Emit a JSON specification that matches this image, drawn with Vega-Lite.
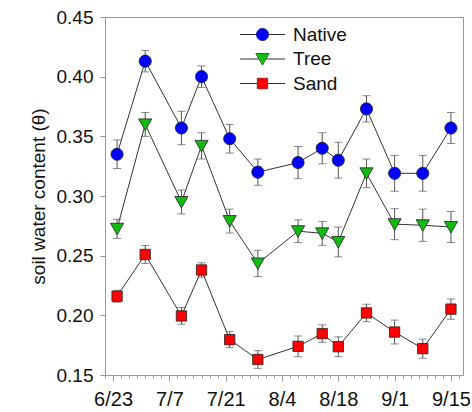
{
  "$schema": "https://vega.github.io/schema/vega-lite/v6.json",
  "width": 358,
  "height": 358,
  "autosize": {"type": "none"},
  "padding": {"left": 105, "top": 17, "right": 9, "bottom": 37},
  "config": {
    "font": "Liberation Sans",
    "view": {"stroke": "#999", "strokeWidth": 1},
    "axis": {"grid": false, "domainColor": "#999", "tickColor": "#999", "labelColor": "#111", "titleColor": "#111"}
  },
  "data": {
    "values": [
      {"date": "2013-06-24", "site": "Native", "swc": 0.335, "lo": 0.323, "hi": 0.347},
      {"date": "2013-07-01", "site": "Native", "swc": 0.413, "lo": 0.404, "hi": 0.422},
      {"date": "2013-07-10", "site": "Native", "swc": 0.357, "lo": 0.343, "hi": 0.371},
      {"date": "2013-07-15", "site": "Native", "swc": 0.400, "lo": 0.391, "hi": 0.409},
      {"date": "2013-07-22", "site": "Native", "swc": 0.348, "lo": 0.336, "hi": 0.360},
      {"date": "2013-07-29", "site": "Native", "swc": 0.320, "lo": 0.309, "hi": 0.331},
      {"date": "2013-08-08", "site": "Native", "swc": 0.328, "lo": 0.3145, "hi": 0.3415},
      {"date": "2013-08-14", "site": "Native", "swc": 0.340, "lo": 0.327, "hi": 0.353},
      {"date": "2013-08-18", "site": "Native", "swc": 0.330, "lo": 0.315, "hi": 0.345},
      {"date": "2013-08-25", "site": "Native", "swc": 0.373, "lo": 0.362, "hi": 0.384},
      {"date": "2013-09-01", "site": "Native", "swc": 0.319, "lo": 0.304, "hi": 0.334},
      {"date": "2013-09-08", "site": "Native", "swc": 0.319, "lo": 0.304, "hi": 0.334},
      {"date": "2013-09-15", "site": "Native", "swc": 0.357, "lo": 0.344, "hi": 0.370},
      {"date": "2013-06-24", "site": "Tree", "swc": 0.2725, "lo": 0.2645, "hi": 0.2805},
      {"date": "2013-07-01", "site": "Tree", "swc": 0.360, "lo": 0.350, "hi": 0.370},
      {"date": "2013-07-10", "site": "Tree", "swc": 0.295, "lo": 0.285, "hi": 0.305},
      {"date": "2013-07-15", "site": "Tree", "swc": 0.342, "lo": 0.331, "hi": 0.353},
      {"date": "2013-07-22", "site": "Tree", "swc": 0.279, "lo": 0.269, "hi": 0.289},
      {"date": "2013-07-29", "site": "Tree", "swc": 0.2435, "lo": 0.2325, "hi": 0.2545},
      {"date": "2013-08-08", "site": "Tree", "swc": 0.2705, "lo": 0.261, "hi": 0.280},
      {"date": "2013-08-14", "site": "Tree", "swc": 0.2687, "lo": 0.2587, "hi": 0.2787},
      {"date": "2013-08-18", "site": "Tree", "swc": 0.2615, "lo": 0.249, "hi": 0.274},
      {"date": "2013-08-25", "site": "Tree", "swc": 0.319, "lo": 0.307, "hi": 0.331},
      {"date": "2013-09-01", "site": "Tree", "swc": 0.2764, "lo": 0.2634, "hi": 0.2894},
      {"date": "2013-09-08", "site": "Tree", "swc": 0.2755, "lo": 0.262, "hi": 0.289},
      {"date": "2013-09-15", "site": "Tree", "swc": 0.274, "lo": 0.261, "hi": 0.287},
      {"date": "2013-06-24", "site": "Sand", "swc": 0.216, "lo": 0.211, "hi": 0.221},
      {"date": "2013-07-01", "site": "Sand", "swc": 0.251, "lo": 0.2435, "hi": 0.2585},
      {"date": "2013-07-10", "site": "Sand", "swc": 0.1995, "lo": 0.1925, "hi": 0.2065},
      {"date": "2013-07-15", "site": "Sand", "swc": 0.238, "lo": 0.232, "hi": 0.244},
      {"date": "2013-07-22", "site": "Sand", "swc": 0.1796, "lo": 0.1729, "hi": 0.1863},
      {"date": "2013-07-29", "site": "Sand", "swc": 0.163, "lo": 0.1556, "hi": 0.1704},
      {"date": "2013-08-08", "site": "Sand", "swc": 0.174, "lo": 0.1653, "hi": 0.1827},
      {"date": "2013-08-14", "site": "Sand", "swc": 0.1847, "lo": 0.1774, "hi": 0.1920},
      {"date": "2013-08-18", "site": "Sand", "swc": 0.1737, "lo": 0.1654, "hi": 0.1820},
      {"date": "2013-08-25", "site": "Sand", "swc": 0.202, "lo": 0.1947, "hi": 0.2093},
      {"date": "2013-09-01", "site": "Sand", "swc": 0.186, "lo": 0.176, "hi": 0.196},
      {"date": "2013-09-08", "site": "Sand", "swc": 0.1721, "lo": 0.1641, "hi": 0.1801},
      {"date": "2013-09-15", "site": "Sand", "swc": 0.2052, "lo": 0.1967, "hi": 0.2137}
    ]
  },
  "resolve": {"axis": {"x": "independent"}, "scale": {"shape": "independent", "color": "independent"}},
  "layer": [
    {
      "mark": {"type": "errorbar", "ticks": {"size": 8, "color": "#555"}, "rule": {"color": "#555"}},
      "encoding": {
        "x": {"field": "date", "type": "temporal", "axis": null,
              "scale": {"type": "utc", "domain": [{"year": 2013, "month": 6, "date": 21, "utc": true}, {"year": 2013, "month": 9, "date": 18, "utc": true}]}},
        "y": {"field": "lo", "type": "quantitative", "scale": {"domain": [0.15, 0.45], "nice": false, "zero": false},
              "axis": {
                "title": "soil water content (θ)",
                "titleFontSize": 19,
                "titleFontWeight": "normal",
                "titlePadding": 8,
                "values": [0.15, 0.2, 0.25, 0.3, 0.35, 0.4, 0.45],
                "format": ".2f",
                "tickSize": 5,
                "labelFontSize": 19,
                "labelPadding": 7,
                "labelFlush": false,
                "labelOverlap": false
              }},
        "y2": {"field": "hi"},
        "detail": {"field": "site"}
      }
    },
    {
      "mark": {"type": "line", "color": "#333", "strokeWidth": 1},
      "encoding": {
        "x": {"field": "date", "type": "temporal",
              "scale": {"type": "utc", "domain": [{"year": 2013, "month": 6, "date": 21, "utc": true}, {"year": 2013, "month": 9, "date": 18, "utc": true}]},
              "axis": {
                "title": null,
                "orient": "bottom",
                "values": [
                  {"year": 2013, "month": 6, "date": 23, "utc": true},
                  {"year": 2013, "month": 7, "date": 7, "utc": true},
                  {"year": 2013, "month": 7, "date": 21, "utc": true},
                  {"year": 2013, "month": 8, "date": 4, "utc": true},
                  {"year": 2013, "month": 8, "date": 18, "utc": true},
                  {"year": 2013, "month": 9, "date": 1, "utc": true},
                  {"year": 2013, "month": 9, "date": 15, "utc": true}
                ],
                "format": "%-m/%-d",
                "tickSize": 6,
                "labelFontSize": 20,
                "labelPadding": 8,
                "labelFlush": false,
                "labelOverlap": false
              }},
        "y": {"field": "swc", "type": "quantitative",
              "scale": {"domain": [0.15, 0.45], "nice": false, "zero": false},
              "axis": {
                "title": "soil water content (θ)",
                "titleFontSize": 19,
                "titleFontWeight": "normal",
                "titlePadding": 8,
                "values": [0.15, 0.2, 0.25, 0.3, 0.35, 0.4, 0.45],
                "format": ".2f",
                "tickSize": 5,
                "labelFontSize": 19,
                "labelPadding": 7,
                "labelFlush": false,
                "labelOverlap": false
              }},
        "detail": {"field": "site"}
      }
    },
    {
      "mark": {"type": "point", "filled": false, "opacity": 0, "strokeWidth": 1, "size": 484},
      "encoding": {
        "x": {"field": "date", "type": "temporal", "axis": null,
              "scale": {"type": "utc", "domain": [{"year": 2013, "month": 6, "date": 21, "utc": true}, {"year": 2013, "month": 9, "date": 18, "utc": true}]}},
        "y": {"field": "swc", "type": "quantitative", "scale": {"domain": [0.15, 0.45], "nice": false, "zero": false}},
        "color": {"field": "site", "type": "nominal",
                  "scale": {"domain": ["Native", "Tree", "Sand"], "range": ["#333333", "#333333", "#333333"]},
                  "legend": {
                    "title": null, "orient": "none", "legendX": 146, "legendY": 6,
                    "symbolSize": 484, "symbolOpacity": 1, "symbolStrokeWidth": 1, "symbolFillColor": "transparent",
                    "labelFontSize": 19, "labelColor": "#111", "labelOpacity": 0, "labelOffset": 19,
                    "rowPadding": 2.5, "padding": 0, "labelLimit": 200
                  }},
        "shape": {"field": "site", "type": "nominal",
                  "scale": {"domain": ["Native", "Tree", "Sand"],
                            "range": ["M-2.05,0L-0.55,0M0.55,0L2.05,0M-0.55,0A0.55,0.55,0,1,1,0.55,0A0.55,0.55,0,1,1,-0.55,0Z",
                                      "M-2.05,0L-0.3,0M0.3,0L2.05,0M-0.6,-0.5L0.6,-0.5L0,0.55Z",
                                      "M-2.05,0L-0.47,0M0.47,0L2.05,0M-0.47,-0.47L0.47,-0.47L0.47,0.47L-0.47,0.47Z"]},
                  "legend": {
                    "title": null, "orient": "none", "legendX": 146, "legendY": 6,
                    "symbolSize": 484, "symbolOpacity": 1, "symbolStrokeWidth": 1, "symbolFillColor": "transparent",
                    "labelFontSize": 19, "labelColor": "#111", "labelOpacity": 0, "labelOffset": 19,
                    "rowPadding": 2.5, "padding": 0, "labelLimit": 200
                  }}
      }
    },
    {
      "mark": {"type": "point", "filled": true, "opacity": 1, "stroke": "#222", "strokeWidth": 0.8, "size": 484},
      "encoding": {
        "x": {"field": "date", "type": "temporal",
              "scale": {"type": "utc", "domain": [{"year": 2013, "month": 6, "date": 21, "utc": true}, {"year": 2013, "month": 9, "date": 18, "utc": true}]},
              "axis": {
                "title": null,
                "orient": "bottom",
                "labels": false,
                "domain": false,
                "tickSize": 3,
                "values": [1371772800000, 1371945600000, 1372118400000, 1372291200000, 1372464000000, 1372636800000, 1372809600000, 1372982400000, 1373155200000, 1373328000000, 1373500800000, 1373673600000, 1373846400000, 1374019200000, 1374192000000, 1374364800000, 1374537600000, 1374710400000, 1374883200000, 1375056000000, 1375228800000, 1375401600000, 1375574400000, 1375747200000, 1375920000000, 1376092800000, 1376265600000, 1376438400000, 1376611200000, 1376784000000, 1376956800000, 1377129600000, 1377302400000, 1377475200000, 1377648000000, 1377820800000, 1377993600000, 1378166400000, 1378339200000, 1378512000000, 1378684800000, 1378857600000, 1379030400000, 1379203200000, 1379376000000]
              }},
        "y": {"field": "swc", "type": "quantitative", "scale": {"domain": [0.15, 0.45], "nice": false, "zero": false}},
        "color": {"field": "site", "type": "nominal",
                  "scale": {"domain": ["Native", "Tree", "Sand"], "range": ["#0000ff", "#11bb11", "#ff0000"]},
                  "legend": {
                    "title": null, "orient": "none", "legendX": 146, "legendY": 6,
                    "symbolSize": 484, "symbolOpacity": 1, "symbolStrokeColor": "#222", "symbolStrokeWidth": 0.8,
                    "labelFontSize": 19, "labelColor": "#111", "labelOffset": 19,
                    "rowPadding": 2.5, "padding": 0, "labelLimit": 200
                  }},
        "shape": {"field": "site", "type": "nominal",
                  "scale": {"domain": ["Native", "Tree", "Sand"],
                            "range": ["M-0.55,0A0.55,0.55,0,1,1,0.55,0A0.55,0.55,0,1,1,-0.55,0Z",
                                      "M-0.6,-0.5L0.6,-0.5L0,0.55Z",
                                      "M-0.47,-0.47L0.47,-0.47L0.47,0.47L-0.47,0.47Z"]},
                  "legend": {
                    "title": null, "orient": "none", "legendX": 146, "legendY": 6,
                    "symbolSize": 484, "symbolOpacity": 1, "symbolStrokeColor": "#222", "symbolStrokeWidth": 0.8,
                    "labelFontSize": 19, "labelColor": "#111", "labelOffset": 19,
                    "rowPadding": 2.5, "padding": 0, "labelLimit": 200
                  }}
      }
    }
  ]
}
